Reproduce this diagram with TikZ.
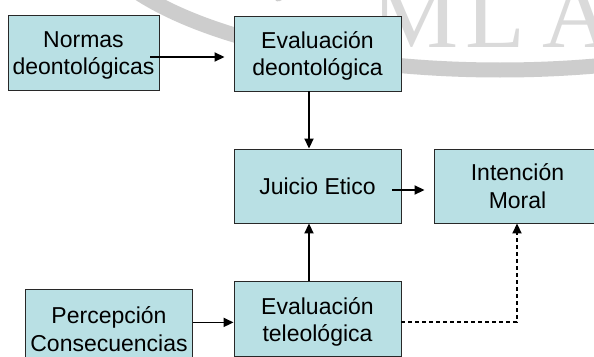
\documentclass[tikz,border=0pt]{standalone}
\usepackage{fontspec}
\setmainfont{Liberation Sans}
\newfontfamily\wmfont{Liberation Serif}
\usetikzlibrary{arrows.meta}
\definecolor{boxfill}{RGB}{185,224,228}
\definecolor{boxline}{RGB}{40,40,40}
\definecolor{wmgray}{RGB}{205,205,205}
\definecolor{wmletter}{RGB}{218,218,218}
\newcommand\dnstrut{\rule{0pt}{22pt}}
\tikzset{
  box/.style={draw=boxline, line width=0.9pt, fill=boxfill, inner sep=0pt,
    minimum width=167pt, minimum height=75pt, align=center,
    font=\fontsize{23}{27.5}\selectfont},
  arr/.style={line width=1.8pt, -{Triangle[length=10pt,width=9pt]}},
  dasharr/.style={arr, dash pattern=on 4pt off 3pt},
  wmletterstyle/.style={anchor=base, text=wmletter, inner sep=0pt,
    font=\wmfont\fontsize{98}{98}\selectfont}
}
\begin{document}
\begin{tikzpicture}[x=1pt,y=1pt]
\useasboundingbox (0,0) rectangle (594,-356);
\clip (0,0) rectangle (594,-356);
\fill[white] (0,0) rectangle (594,-356);
% watermark
\draw[wmgray, line width=15pt] (500,80) ellipse [x radius=413.6, y radius=150];
\draw[wmgray, line width=7pt, line cap=round] (278,2) .. controls (290,8) .. (304,21);
\node[wmletterstyle] (wmM) at (415.5,-47) {M};
\node[wmletterstyle] (wmL) at (495,-47) {L};
\node[wmletterstyle] (wmA) at (578,-47) {A};
% boxes
\node[box, minimum width=151pt] (normas) at (83.5,-52.5) {\dnstrut Normas\\deontológicas};
\node[box] (evald) at (317.5,-53.5) {\dnstrut Evaluación\\deontológica};
\node[box, minimum height=74pt] (juicio) at (317.5,-186) {Juicio Etico};
\node[box, minimum height=74pt] (intencion) at (517.5,-186) {Intención\\Moral};
\node[box] (evalt) at (317.5,-319.2) {\dnstrut Evaluación\\teleológica};
\node[box, minimum width=166.6pt] (percep) at (109,-326.8) {\dnstrut Percepción\\Consecuencias};
% connectors
\draw[arr] ([xshift=-9pt,yshift=-4.5pt]normas.east) -- ([xshift=-9pt,yshift=-4.5pt]normas.east -| evald.west);
\draw[arr] ([xshift=-8.5pt]evald.south) -- ([xshift=-8.5pt]juicio.north);
\draw[arr] ([xshift=-9pt,yshift=-4pt]juicio.east) -- ([xshift=-9pt,yshift=-4pt]juicio.east -| intencion.west);
\draw[arr] ([xshift=-8.5pt]evalt.north) -- ([xshift=-8.5pt]juicio.south);
\draw[arr] ([yshift=4.4pt]percep.east) -- ([yshift=4.4pt]percep.east -| evalt.west);
\draw[dasharr] ([yshift=-3pt]evalt.east) -| ([xshift=-0.5pt]intencion.south);
\end{tikzpicture}
\end{document}
